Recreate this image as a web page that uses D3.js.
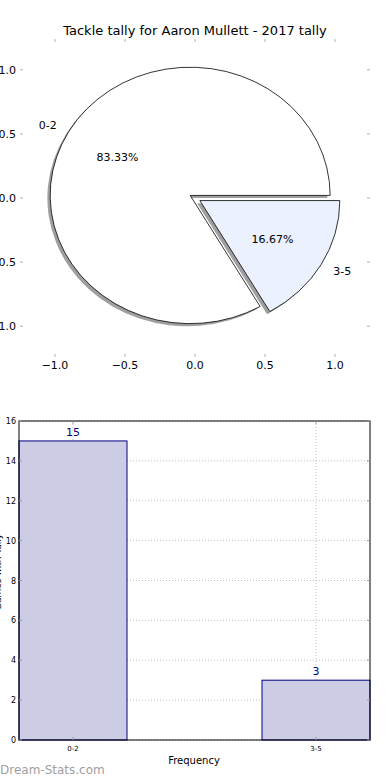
<!DOCTYPE html>
<html>
<head>
<meta charset="utf-8">
<script src="https://cdn.jsdelivr.net/npm/d3@7"></script>
<style>
  body { margin: 0; background: #fff; }
  svg { display: block; font-family: "DejaVu Sans", sans-serif; }
</style>
</head>
<body>
<div id="chart"></div>
<script>
// data
var titleText = "Tackle tally for Aaron Mullett - 2017 tally";
var categories = ["0-2", "3-5"];
var counts = [15, 3];
var sliceColors = ["#ffffff", "#ebf1ff"];
var pieTicks = [-1.0, -0.5, 0.0, 0.5, 1.0];
var barTicks = [0, 2, 4, 6, 8, 10, 12, 14, 16];

var W = 390, H = 780;
var svg = d3.select("#chart").append("svg")
  .attr("width", W)
  .attr("height", H);

/* ---------- pie ---------- */
var px = d3.scaleLinear().domain([-1.25, 1.25]).range([20, 370]);
var py = d3.scaleLinear().domain([-1.24, 1.24]).range([357, 39]);

svg.append("text")
  .attr("x", 195).attr("y", 35)
  .attr("text-anchor", "middle")
  .attr("font-size", "13px")
  .text(titleText);

// tick marks (no frame)
var tickCol = "#b0b0b0";
pieTicks.forEach(function(t) {
  svg.append("line").attr("x1", px(t)).attr("x2", px(t)).attr("y1", 39).attr("y2", 42).attr("stroke", tickCol);
  svg.append("line").attr("x1", px(t)).attr("x2", px(t)).attr("y1", 357).attr("y2", 354).attr("stroke", tickCol);
  svg.append("line").attr("x1", 20).attr("x2", 23).attr("y1", py(t)).attr("y2", py(t)).attr("stroke", tickCol);
  svg.append("line").attr("x1", 370).attr("x2", 367).attr("y1", py(t)).attr("y2", py(t)).attr("stroke", tickCol);
  svg.append("text").attr("x", px(t)).attr("y", 369)
    .attr("text-anchor", "middle").attr("font-size", "11px")
    .text(d3.format(".1f")(t).replace("-", "\u2212"));
  svg.append("text").attr("x", 16).attr("y", py(t) + 4)
    .attr("text-anchor", "end").attr("font-size", "11px")
    .text(d3.format(".1f")(t).replace("-", "\u2212"));
});

var kx = px(1) - px(0), ky = py(-1) - py(0);
var explode = 0.04;
var pie = d3.pie().sort(null)
  .startAngle(Math.PI / 2)
  .endAngle(Math.PI / 2 - 2 * Math.PI);
var arcs = pie(counts);
var arc = d3.arc().innerRadius(0).outerRadius(1);
var total = d3.sum(counts);

var pg = svg.append("g")
  .attr("transform", "translate(" + px(0) + "," + py(0) + ") scale(" + kx + "," + ky + ")");

function offs(d) {
  var a = (d.startAngle + d.endAngle) / 2;
  return [Math.sin(a) * explode, -Math.cos(a) * explode];
}

// shadows
arcs.forEach(function(d) {
  var o = offs(d);
  pg.append("path")
    .attr("d", arc(d))
    .attr("transform", "translate(" + (o[0] - 0.02) + "," + (o[1] + 0.02) + ")")
    .attr("fill", "#404040")
    .attr("fill-opacity", 0.5);
});
// wedges
arcs.forEach(function(d, i) {
  var o = offs(d);
  pg.append("path")
    .attr("d", arc(d))
    .attr("transform", "translate(" + o[0] + "," + o[1] + ")")
    .attr("fill", sliceColors[i])
    .attr("stroke", "#000")
    .attr("stroke-width", 0.8)
    .attr("vector-effect", "non-scaling-stroke");
});
// labels
arcs.forEach(function(d, i) {
  var a = (d.startAngle + d.endAngle) / 2;
  var s = Math.sin(a), c = -Math.cos(a);
  var cx = s * explode, cy = c * explode;
  var lx = px(0) + (cx + 1.1 * s) * kx;
  var ly = py(0) + (cy + 1.1 * c) * ky;
  svg.append("text")
    .attr("x", lx).attr("y", ly + 4)
    .attr("text-anchor", s < 0 ? "end" : "start")
    .attr("font-size", "11px")
    .text(categories[i]);
  svg.append("text")
    .attr("x", px(0) + (cx + 0.6 * s) * kx)
    .attr("y", py(0) + (cy + 0.6 * c) * ky + 4)
    .attr("text-anchor", "middle")
    .attr("font-size", "11px")
    .text(d3.format(".2f")(100 * counts[i] / total) + "%");
});

/* ---------- bar chart ---------- */
var bx = d3.scaleBand().domain(categories).range([19, 370]).paddingInner(0.5556).paddingOuter(0);
var by = d3.scaleLinear().domain([0, 16]).range([740, 421]);
var gridCol = "#c0c0c0";

// grid
barTicks.forEach(function(t) {
  svg.append("line").attr("x1", 19).attr("x2", 370).attr("y1", by(t)).attr("y2", by(t))
    .attr("stroke", gridCol).attr("stroke-dasharray", "1,2");
});
categories.forEach(function(c) {
  var x = bx(c) + bx.bandwidth() / 2;
  svg.append("line").attr("x1", x).attr("x2", x).attr("y1", 421).attr("y2", 740)
    .attr("stroke", gridCol).attr("stroke-dasharray", "1,2");
});

// bars
svg.selectAll("rect.bar")
  .data(counts)
  .enter()
  .append("rect")
  .attr("class", "bar")
  .attr("x", function(d, i) { return bx(categories[i]); })
  .attr("y", function(d) { return by(d); })
  .attr("width", bx.bandwidth())
  .attr("height", function(d) { return by(0) - by(d); })
  .attr("fill", "#cccce5")
  .attr("stroke", "#000080")
  .attr("stroke-width", 1);

// value labels
svg.selectAll("text.val")
  .data(counts)
  .enter()
  .append("text")
  .attr("class", "val")
  .attr("x", function(d, i) { return bx(categories[i]) + bx.bandwidth() / 2; })
  .attr("y", function(d) { return by(d) - 5; })
  .attr("text-anchor", "middle")
  .attr("font-size", "11px")
  .attr("fill", "#000080")
  .text(function(d) { return d; });

// frame
svg.append("rect").attr("x", 19).attr("y", 421).attr("width", 351).attr("height", 319)
  .attr("fill", "none").attr("stroke", "#000").attr("stroke-width", 1);

// y ticks
barTicks.forEach(function(t) {
  svg.append("line").attr("x1", 19).attr("x2", 22).attr("y1", by(t)).attr("y2", by(t)).attr("stroke", "#999");
  svg.append("line").attr("x1", 370).attr("x2", 367).attr("y1", by(t)).attr("y2", by(t)).attr("stroke", "#999");
  svg.append("text").attr("x", 16).attr("y", by(t) + 3)
    .attr("text-anchor", "end").attr("font-size", "8px")
    .text(t);
});
// x ticks
categories.forEach(function(c) {
  var x = bx(c) + bx.bandwidth() / 2;
  svg.append("line").attr("x1", x).attr("x2", x).attr("y1", 740).attr("y2", 737).attr("stroke", "#999");
  svg.append("line").attr("x1", x).attr("x2", x).attr("y1", 421).attr("y2", 424).attr("stroke", "#999");
  svg.append("text").attr("x", x).attr("y", 751)
    .attr("text-anchor", "middle").attr("font-size", "7px")
    .text(c);
});

svg.append("text").attr("x", 194).attr("y", 764)
  .attr("text-anchor", "middle").attr("font-size", "10px")
  .text("Frequency");

svg.append("text")
  .attr("transform", "translate(1,572) rotate(-90)")
  .attr("text-anchor", "middle").attr("font-size", "9px")
  .text("Games with Tally");

svg.append("text").attr("x", 0).attr("y", 774)
  .attr("font-size", "12px").attr("fill", "#a0a0a0")
  .text("Dream-Stats.com");
</script>
</body>
</html>
